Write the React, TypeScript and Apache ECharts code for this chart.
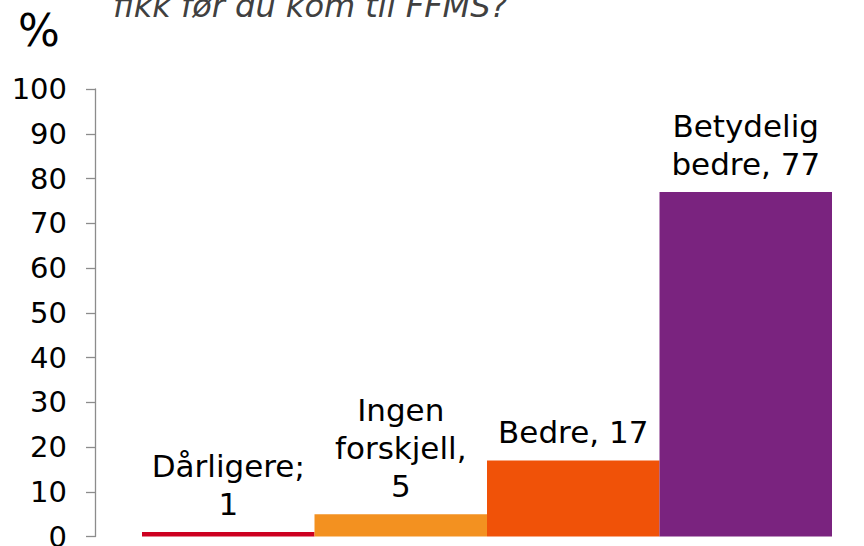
import React, { useEffect, useRef } from "react";
import * as echarts from "echarts";

const categories = ["Dårligere", "Ingen forskjell", "Bedre", "Betydelig bedre"];
const values = [1, 5, 17, 77];
const labelPrefixes = ["Dårligere;\n", "Ingen\nforskjell,\n", "Bedre, ", "Betydelig\nbedre, "];
const barColors = ["#CD0020", "#F39120", "#F05208", "#7A237F"];
const titleText = "fikk før du kom til FFMS?";
const unitText = "%";

export default function App() {
  const ref = useRef<HTMLDivElement>(null);
  useEffect(() => {
    document.body.style.margin = "0";
    const chart = echarts.init(ref.current!, null, { renderer: "svg" });
    const font = "'DejaVu Sans', Verdana, sans-serif";
    chart.setOption({
      animation: false,
      textStyle: { fontFamily: font },
      grid: { left: 142, right: 32, top: 89, bottom: 10, containLabel: false },
      xAxis: {
        type: "category",
        data: categories,
        show: false,
      },
      yAxis: {
        type: "value",
        min: 0,
        max: 100,
        interval: 10,
        offset: 47,
        axisLine: { show: true, lineStyle: { color: "#8c8c8c", width: 1.3 } },
        axisTick: { show: true, inside: false, length: 9, lineStyle: { color: "#8c8c8c", width: 1.3 } },
        splitLine: { show: false },
        axisLabel: { color: "#000", fontSize: 29, margin: 28, fontFamily: font },
      },
      graphic: [
        {
          type: "text",
          x: 113,
          y: 6,
          style: {
            text: titleText,
            font: `italic 32px ${font}`,
            fill: "#404040",
            verticalAlign: "middle",
            align: "left",
          },
        },
        {
          type: "text",
          x: 39,
          y: 30,
          style: {
            text: unitText,
            font: `44px ${font}`,
            fill: "#000",
            verticalAlign: "middle",
            align: "center",
          },
        },
      ],
      series: [
        {
          type: "bar",
          barCategoryGap: "0%",
          data: values.map((v, i) => ({ value: v, itemStyle: { color: barColors[i] } })),
          label: {
            show: true,
            position: "top",
            distance: 9,
            fontSize: 31,
            lineHeight: 38,
            color: "#000",
            fontFamily: font,
            align: "center",
            formatter: (p: any) => labelPrefixes[p.dataIndex] + p.value,
          },
        },
      ],
    });
    return () => chart.dispose();
  }, []);
  return <div ref={ref} style={{ width: 864, height: 551, overflow: "hidden" }} />;
}
